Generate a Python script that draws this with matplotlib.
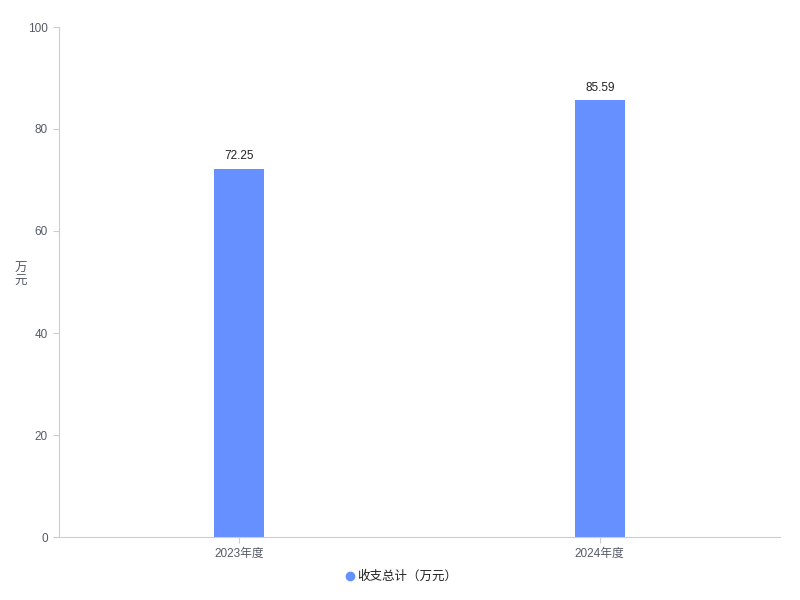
import matplotlib
matplotlib.use("agg")
import matplotlib.pyplot as plt
from matplotlib.lines import Line2D

plt.rcParams['font.family'] = ['Noto Sans CJK SC', 'DejaVu Sans']

categories = ['2023年度', '2024年度']
values = [72.25, 85.59]
series_name = '收支总计（万元）'
bar_color = '#6690ff'
axis_color = '#cccccc'
text_color = '#555a66'

fig = plt.figure(figsize=(8, 6), dpi=100)
ax = fig.add_axes([0.07375, 0.105, 0.90125, 0.85])

x = list(range(len(categories)))
bars = ax.bar(x, values, width=0.139, color=bar_color)
for xi, v in zip(x, values):
    ax.text(xi, v + 1.3, f'{v:.2f}', ha='center', va='bottom', fontsize=8.5,
            color='#222222', family='Liberation Sans')

ax.set_xlim(-0.5, 1.5)
ax.set_ylim(0, 100)
ax.set_xticks(x)
ax.set_xticklabels(categories, fontsize=8.5, color=text_color)
ax.set_yticks([0, 20, 40, 60, 80, 100])
ax.set_yticklabels(['0', '20', '40', '60', '80', '100'], fontsize=8.5,
                   color=text_color, family='Liberation Sans')
for lab in ax.get_xticklabels():
    lab.set_family(['Liberation Sans', 'Noto Sans CJK SC'])

for s in ['top', 'right']:
    ax.spines[s].set_visible(False)
for s in ['left', 'bottom']:
    ax.spines[s].set_color(axis_color)
ax.tick_params(axis='both', colors=axis_color, length=4, labelcolor=text_color)
ax.tick_params(axis='y', pad=4)

fig.text(0.026, 0.542, '万\n元', ha='center', va='center', fontsize=9,
         color=text_color, linespacing=1.0)

handle = Line2D([], [], marker='o', linestyle='', markersize=6, color=bar_color)
fig.legend([handle], [series_name], loc='center', bbox_to_anchor=(0.5, 0.039),
           frameon=False, fontsize=9, handletextpad=0.0, handlelength=1.2,
           labelcolor='#222222')

plt.savefig('out.png', dpi=100)
plt.close()
